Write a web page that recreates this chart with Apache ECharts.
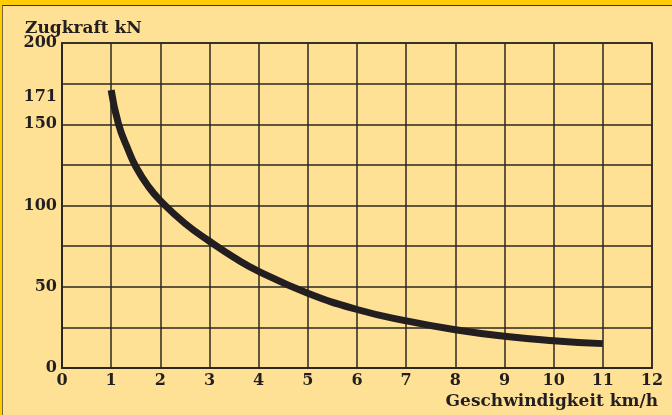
<!DOCTYPE html>
<html>
<head>
<meta charset="utf-8">
<script src="https://cdn.jsdelivr.net/npm/echarts@6/dist/echarts.min.js"></script>
<style>
  html, body { margin: 0; padding: 0; width: 672px; height: 415px; overflow: hidden; background: #FFCC00; }
  #frame { position: absolute; left: 2px; top: 5px; right: 0; bottom: 0; background: #FFE195; border-left: 1px solid #7a6a3a; border-top: 1px solid #3a3228; }
  #chart { position: absolute; left: -3px; top: -6px; width: 672px; height: 415px; }
</style>
</head>
<body>
<div id="frame"><div id="chart"></div></div>
<script>
const yTitle = 'Zugkraft kN';
const xTitle = 'Geschwindigkeit km/h';
const yLabelValues = [0, 50, 100, 150, 171, 200];
const speed = [1, 1.15, 1.35, 1.5, 1.75, 2, 2.5, 3, 3.5, 4, 5, 6, 7, 8, 9, 10, 11];
const force = [171, 150, 134, 124, 112, 103, 89, 78, 68, 59.5, 46, 36, 29, 23.5, 19.5, 16.8, 15];

const chart = echarts.init(document.getElementById('chart'));
const font = '"DejaVu Serif", "Liberation Serif", serif';
const ink = '#231f20';
const gridColor = '#2b2620';
chart.setOption({
  backgroundColor: 'transparent',
  animation: false,
  title: [
    { text: yTitle, left: 25, top: 20, padding: 0, textStyle: { fontFamily: font, fontWeight: 'bold', fontSize: 17, color: ink } },
    { text: xTitle, right: 14, top: 393, padding: 0, textStyle: { fontFamily: font, fontWeight: 'bold', fontSize: 17, color: ink } }
  ],
  grid: { left: 62, top: 43, right: 20, bottom: 47, show: true, borderColor: gridColor, borderWidth: 1.5 },
  xAxis: {
    type: 'value', min: 0, max: 12, interval: 1,
    axisLine: { show: true, lineStyle: { color: gridColor, width: 2 } },
    axisTick: { show: false },
    splitLine: { show: true, lineStyle: { color: gridColor, width: 1.5 } },
    axisLabel: { fontFamily: font, fontWeight: 'bold', fontSize: 16, color: ink, margin: 5 }
  },
  yAxis: {
    type: 'value', min: 0, max: 200, interval: 25,
    axisLine: { show: true, lineStyle: { color: gridColor, width: 2 } },
    axisTick: { show: false },
    splitLine: { show: true, lineStyle: { color: gridColor, width: 1.5 } },
    axisLabel: {
      customValues: yLabelValues, fontFamily: font, fontWeight: 'bold', fontSize: 16, color: ink, margin: 5,
      formatter: v => v === 171 ? '{low|' + v + '}' : String(v),
      rich: { low: { fontFamily: font, fontWeight: 'bold', fontSize: 16, color: ink, padding: [13, 0, 0, 0] } }
    }
  },
  series: [{
    type: 'line',
    data: speed.map((v, i) => [v, force[i]]),
    smooth: 0.5,
    showSymbol: false,
    lineStyle: { color: ink, width: 7, cap: 'butt' }
  }]
});
</script>
</body>
</html>
